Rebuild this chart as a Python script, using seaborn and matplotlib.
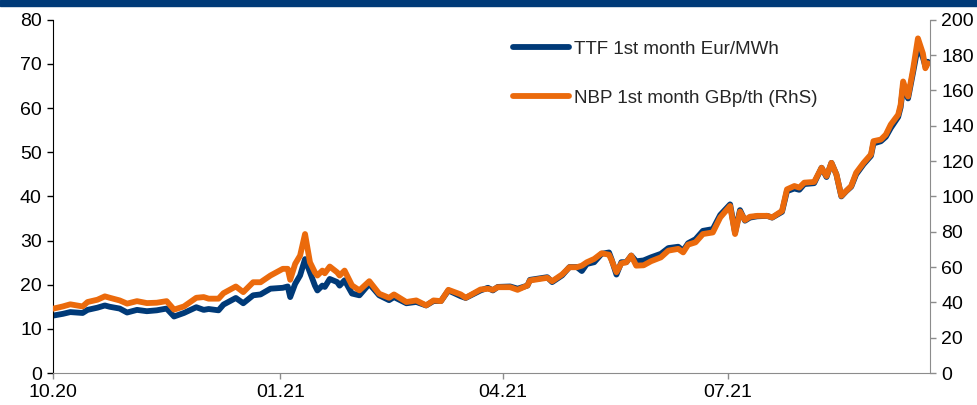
import pandas as pd
import numpy as np
import matplotlib
matplotlib.use("Agg")
import matplotlib.pyplot as plt
import matplotlib.dates as mdates
import seaborn as sns

# days after 01.10.2020
days = [0, 4, 7, 12, 14, 18, 21, 23, 27, 30, 34, 38, 42, 46, 49, 53, 58, 61, 63, 67,
        69, 74, 77, 81, 84, 88, 93, 95, 96, 98, 100, 102, 104, 106, 107, 109, 110, 112, 115, 116,
        118, 121, 124, 128, 132, 136, 138, 143, 147, 151, 154, 157, 160, 165, 167, 173, 176, 178, 180, 185,
        188, 192, 193, 200, 202, 206, 209, 212, 214, 216, 219, 222, 225, 226, 228, 230, 232, 234, 236, 239,
        242, 246, 249, 253, 255, 257, 260, 263, 267, 270, 274, 276, 278, 280, 282, 285, 289, 291, 295, 297,
        300, 302, 304, 308, 311, 313, 315, 317, 319, 321, 323, 325, 328, 331, 332, 335, 337, 339, 342, 343,
        344, 346, 348, 350, 352, 353, 354]

# TTF 1st month, Eur/MWh (left axis)
ttf = [13.0, 13.4, 13.8, 13.6, 14.3, 14.8, 15.3, 15.0, 14.6, 13.7, 14.3, 14.0, 14.2, 14.6, 12.8, 13.6, 14.9, 14.3, 14.5, 14.2,
       15.5, 17.0, 15.8, 17.6, 17.8, 19.1, 19.3, 19.6, 17.2, 20.2, 22.1, 25.8, 22.8, 19.8, 18.7, 19.8, 19.5, 21.3, 20.6, 19.8,
       21.0, 18.0, 17.6, 20.2, 17.6, 16.5, 17.2, 15.8, 16.1, 15.3, 16.3, 16.3, 18.7, 17.4, 17.0, 18.7, 19.3, 18.7, 19.5, 19.6,
       19.1, 19.8, 21.1, 21.7, 20.6, 22.1, 24.0, 24.0, 23.1, 24.7, 25.1, 27.0, 27.3, 25.8, 22.3, 25.1, 25.1, 26.6, 25.3, 25.5,
       26.2, 27.0, 28.3, 28.6, 27.7, 29.4, 30.3, 32.2, 32.6, 35.8, 38.2, 31.8, 36.9, 34.5, 35.2, 35.5, 35.6, 35.2, 36.5, 41.2,
       41.8, 41.5, 42.8, 43.0, 46.5, 44.4, 47.6, 45.0, 40.0, 41.2, 42.2, 45.0, 47.3, 49.2, 52.0, 52.5, 53.5, 55.5, 58.0, 60.2,
       65.0, 62.2, 68.0, 74.0, 71.5, 69.5, 70.5]

# NBP 1st month, GBp/th (right axis)
nbp = [36.4, 37.7, 38.9, 37.7, 40.2, 41.5, 43.4, 42.6, 41.1, 39.3, 40.7, 39.6, 39.8, 40.7, 35.9, 37.7, 42.6, 43.0, 42.1, 42.1,
       45.2, 49.0, 45.8, 51.4, 51.4, 55.2, 59.0, 59.0, 52.8, 61.8, 66.5, 78.7, 62.7, 57.0, 55.2, 58.0, 56.5, 60.3, 57.0, 55.2,
       58.0, 49.6, 46.8, 52.0, 44.9, 42.6, 44.5, 40.2, 41.1, 38.3, 41.1, 40.7, 47.1, 44.5, 42.6, 47.3, 47.7, 47.1, 48.6, 48.6,
       47.1, 49.6, 52.4, 53.9, 52.0, 55.8, 59.9, 59.9, 60.8, 62.7, 64.6, 67.8, 67.0, 64.0, 57.1, 62.1, 62.7, 66.5, 60.8, 61.0,
       63.3, 65.5, 69.3, 70.3, 68.3, 72.7, 74.0, 78.7, 79.6, 88.1, 94.6, 78.7, 91.4, 86.6, 88.5, 89.0, 89.0, 88.1, 91.8, 104.0,
       105.9, 105.0, 107.8, 108.2, 116.2, 111.5, 119.0, 112.5, 100.3, 103.1, 105.9, 113.4, 119.0, 123.8, 131.3, 132.2, 135.0, 140.7, 146.3, 151.9,
       165.1, 156.6, 171.7, 189.5, 181.0, 172.6, 175.4]

ttf_label = "TTF 1st month Eur/MWh"
nbp_label = "NBP 1st month GBp/th (RhS)"

start = pd.Timestamp("2020-10-01")
df = pd.DataFrame({"date": start + pd.to_timedelta(days, unit="D"), "ttf": ttf, "nbp": nbp})

navy = "#003a78"
orange = "#eb6a0c"
grey = "#8c8c8c"

sns.set_style("white")
plt.rcParams["font.family"] = ["Liberation Sans", "DejaVu Sans"]

fig = plt.figure(figsize=(9.77, 4.05), dpi=100)
ax = fig.add_axes([0.0542, 0.079, 0.898, 0.872])
ax2 = ax.twinx()

sns.lineplot(data=df, x="date", y="ttf", ax=ax, color=navy, linewidth=4.2, label=ttf_label, legend=False)
sns.lineplot(data=df, x="date", y="nbp", ax=ax2, color=orange, linewidth=4.2, label=nbp_label, legend=False)

ax.set_xlim(start, start + pd.Timedelta(days=355))
ax.set_ylim(0, 80)
ax2.set_ylim(0, 200)
ax.set_yticks(range(0, 81, 10))
ax2.set_yticks(range(0, 201, 20))
ax.xaxis.set_major_locator(mdates.MonthLocator(bymonth=[1, 4, 7, 10]))
ax.xaxis.set_major_formatter(mdates.DateFormatter("%m.%y"))
ax.set_xlabel("")
ax.set_ylabel("")
ax2.set_ylabel("")

for a in (ax, ax2):
    a.spines["top"].set_visible(False)
    a.tick_params(labelsize=14, colors="black", length=4, width=1)
ax.spines["left"].set_color("black")
ax.spines["bottom"].set_color(grey)
ax.spines["right"].set_visible(False)
ax2.spines["left"].set_visible(False)
ax2.spines["bottom"].set_visible(False)
ax2.spines["right"].set_color(grey)
ax.tick_params(axis="y", left=True, direction="out", pad=4)
ax.tick_params(axis="x", bottom=True, direction="out", color=grey, pad=4)
ax2.tick_params(axis="y", right=True, direction="out", color=grey, pad=4)

h1, l1 = ax.get_legend_handles_labels()
h2, l2 = ax2.get_legend_handles_labels()
ax2.legend(h1 + h2, l1 + l2, loc="upper left", bbox_to_anchor=(0.505, 0.989), frameon=False,
           fontsize=13.5, handlelength=3.0, labelspacing=1.7, handletextpad=0.27)

# dark band along the top edge
fig.patches.append(plt.Rectangle((0, 0.985), 1, 0.015, transform=fig.transFigure, color=navy, zorder=5))

fig.savefig("out.png", dpi=100)
